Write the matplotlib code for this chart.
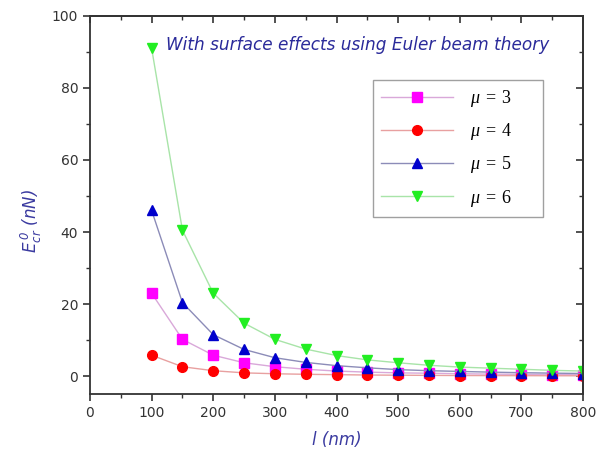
import matplotlib
matplotlib.use("Agg")
import matplotlib.pyplot as plt
from matplotlib.ticker import MultipleLocator

plt.rcParams['mathtext.fontset'] = 'custom'
plt.rcParams['mathtext.rm'] = 'Liberation Serif'
plt.rcParams['mathtext.it'] = 'Liberation Serif:italic'
plt.rcParams['mathtext.sf'] = 'DejaVu Sans:italic'

l_nm = [100, 150, 200, 250, 300, 350, 400, 450, 500, 550, 600, 650, 700, 750, 800]
mu3 = [23.0, 10.2, 5.8, 3.7, 2.6, 1.9, 1.4, 1.1, 0.9, 0.8, 0.65, 0.55, 0.5, 0.42, 0.36]
mu4 = [5.8, 2.6, 1.5, 0.9, 0.65, 0.5, 0.4, 0.3, 0.25, 0.2, 0.16, 0.14, 0.12, 0.1, 0.09]
mu5 = [46.0, 20.4, 11.5, 7.4, 5.1, 3.8, 2.9, 2.3, 1.8, 1.5, 1.3, 1.1, 0.95, 0.82, 0.72]
mu6 = [91.0, 40.5, 23.0, 14.7, 10.2, 7.5, 5.7, 4.5, 3.7, 3.0, 2.5, 2.2, 1.9, 1.6, 1.4]

series = [
    (mu3, r'$\mu\;=\;3$', 's', '#ff00ff', '#d9a8d9'),
    (mu4, r'$\mu\;=\;4$', 'o', '#ff0000', '#e8a0a0'),
    (mu5, r'$\mu\;=\;5$', '^', '#0000cc', '#8c8cb8'),
    (mu6, r'$\mu\;=\;6$', 'v', '#22ee22', '#a8e4a8'),
]

fig = plt.figure(figsize=(6.08, 4.53), dpi=100)
ax = fig.add_axes([0.148, 0.130, 0.811, 0.835])

for vals, lab, mk, mc, lc in series:
    ax.plot(l_nm, vals, color=lc, lw=1.0, marker=mk, markersize=7,
            markerfacecolor=mc, markeredgecolor=mc, label=lab)

ax.set_xlim(0, 800)
ax.set_ylim(-5, 100)
ax.xaxis.set_major_locator(MultipleLocator(100))
ax.xaxis.set_minor_locator(MultipleLocator(50))
ax.yaxis.set_major_locator(MultipleLocator(20))
ax.yaxis.set_minor_locator(MultipleLocator(10))

for s in ax.spines.values():
    s.set_linewidth(1.3)
    s.set_color('#333333')

ax.tick_params(axis='both', which='both', direction='out', colors='#333333',
               labelcolor='#333333', labelsize=10)
ax.tick_params(axis='both', which='major', length=5, width=1.2)
ax.tick_params(axis='both', which='minor', length=3, width=1.0)

secx = ax.secondary_xaxis('top')
secx.xaxis.set_major_locator(MultipleLocator(100))
secx.xaxis.set_minor_locator(MultipleLocator(50))
secx.tick_params(which='both', direction='in', labeltop=False, colors='#333333')
secx.tick_params(which='major', length=5, width=1.2)
secx.tick_params(which='minor', length=3, width=1.0)
secx.spines['top'].set_linewidth(1.3)
secx.spines['top'].set_color('#333333')

secy = ax.secondary_yaxis('right')
secy.yaxis.set_major_locator(MultipleLocator(20))
secy.yaxis.set_minor_locator(MultipleLocator(10))
secy.tick_params(which='both', direction='in', labelright=False, colors='#333333')
secy.tick_params(which='major', length=5, width=1.2)
secy.tick_params(which='minor', length=3, width=1.0)
secy.spines['right'].set_linewidth(1.3)
secy.spines['right'].set_color('#333333')

ax.set_xlabel('l (nm)', fontsize=12, style='italic', color='#3a3aa0', labelpad=8)
ax.set_ylabel(r'$\mathsf{E_{cr}^{\ 0}}$ (nN)', fontsize=12, style='italic',
              color='#3a3aa0')
ax.yaxis.set_label_coords(-0.093, 0.458)

ax.text(0.155, 0.923, 'With surface effects using Euler beam theory',
        transform=ax.transAxes, fontsize=12.2, style='italic', color='#2a2a9a',
        va='center', ha='left')

leg = ax.legend(loc='upper left', bbox_to_anchor=(0.574, 0.0, 0.345, 0.831),
                mode='expand', frameon=True,
                fancybox=False, edgecolor='#888888', fontsize=13,
                handlelength=4.0, labelspacing=0.68, borderpad=0.45,
                handletextpad=0.9, borderaxespad=0)
leg.get_frame().set_linewidth(1.0)

fig.savefig('out.png', dpi=100)
